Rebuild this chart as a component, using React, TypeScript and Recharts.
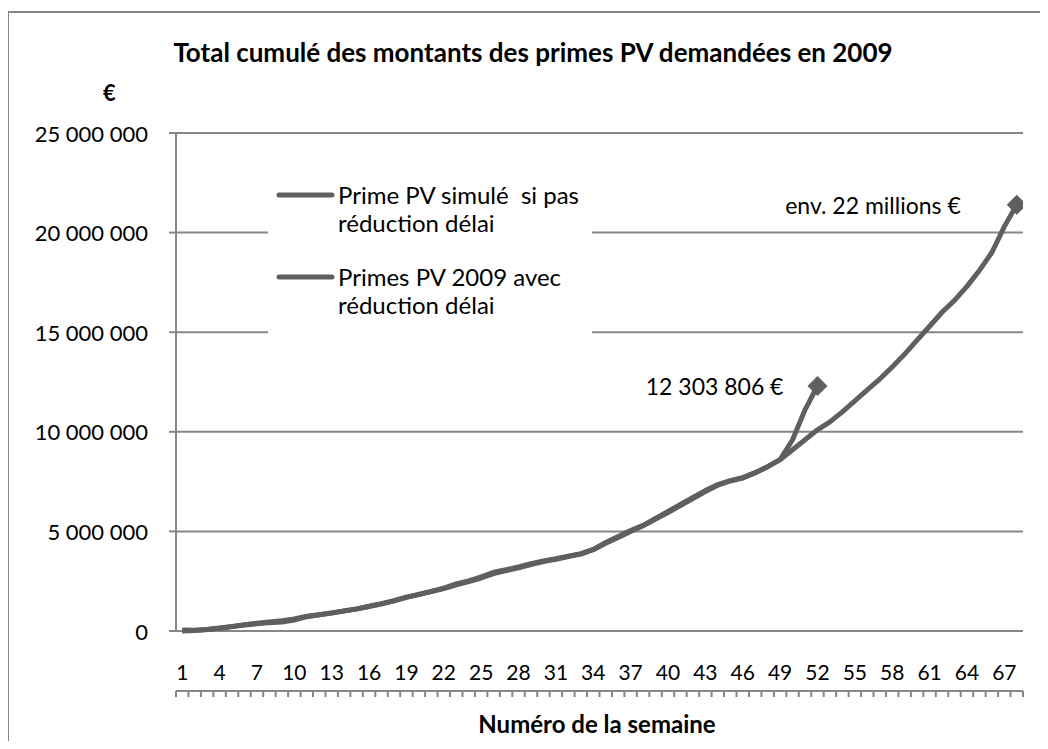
import React from 'react';
import { LineChart, Line, XAxis, YAxis, CartesianGrid, Legend, LabelList } from 'recharts';

// cumulative amounts in euros, one value per week
const simuleValues = [
  0, 20000, 70000, 140000, 220000, 310000, 390000, 450000, 510000, 610000,
  740000, 820000, 900000, 1000000, 1110000, 1240000, 1370000, 1520000, 1700000, 1840000,
  1980000, 2130000, 2320000, 2480000, 2660000, 2880000, 3030000, 3170000, 3340000, 3490000,
  3600000, 3740000, 3860000, 4100000, 4440000, 4740000, 5040000, 5300000, 5650000, 6000000,
  6350000, 6700000, 7050000, 7350000, 7550000, 7700000, 7950000, 8250000, 8600000, 9100000,
  9600000, 10100000, 10500000, 11000000, 11550000, 12100000, 12650000, 13250000, 13900000, 14600000,
  15300000, 16000000, 16600000, 17300000, 18100000, 19000000, 20300000, 21400000,
];

const primes2009Values = [
  50000, 40000, 80000, 150000, 230000, 300000, 360000, 420000, 450000, 550000,
  720000, 820000, 910000, 1010000, 1100000, 1230000, 1360000, 1510000, 1690000, 1830000,
  1990000, 2150000, 2360000, 2520000, 2720000, 2950000, 3080000, 3220000, 3380000, 3520000,
  3630000, 3760000, 3880000, 4080000, 4400000, 4700000, 5000000, 5280000, 5620000, 5950000,
  6300000, 6650000, 7000000, 7320000, 7530000, 7680000, 7940000, 8250000, 8600000, 9600000,
  11100000, 12303806,
];

const weekTicks = [1, 4, 7, 10, 13, 16, 19, 22, 25, 28, 31, 34, 37, 40, 43, 46, 49, 52, 55, 58, 61, 64, 67];
const yTicks = [0, 5000000, 10000000, 15000000, 20000000, 25000000];

const simuleName = 'Prime PV simulé  si pas réduction délai';
const primesName = 'Primes PV 2009 avec réduction délai';
const simuleNote = 'env. 22 millions €';

const data = simuleValues.map((v, i) => ({
  week: i + 1,
  simule: v,
  primes2009: i < primes2009Values.length ? primes2009Values[i] : null,
}));

// category boundaries for the small tick marks under the axis
const boundaryTicks = [0, ...simuleValues.map((_, i) => i + 1)].map((w) => w + 0.5);

const FONT = 'Lato, "Open Sans", sans-serif';
const LINE = '#5f5f5f';
const GRID = '#868686';

const fmt = (v: number) => String(Math.round(v)).replace(/\B(?=(\d{3})+(?!\d))/g, ' ');

const diamond = (last: number) => (props: any) => {
  const { cx, cy, index } = props;
  if (index !== last || cx == null || cy == null) return <g key={`d-${index}`} />;
  const r = 10;
  return (
    <path
      key={`d-${index}`}
      d={`M${cx},${cy - r} L${cx + r},${cy} L${cx},${cy + r} L${cx - r},${cy} Z`}
      fill={LINE}
    />
  );
};

const endLabel = (last: number, text: (v: number) => string, gap: number) => (props: any) => {
  const { x, y, value, index } = props;
  if (index !== last) return null;
  return (
    <text x={x - gap} y={y} textAnchor="end" dominantBaseline="central" fontFamily={FONT} fontSize={23} fill="#000">
      {text(value)}
    </text>
  );
};

const YTick = (props: any) => (
  <text x={props.x} y={props.y} textAnchor="end" dominantBaseline="central" fontFamily={FONT} fontSize={22} fill="#000">
    {fmt(props.payload.value)}
  </text>
);

const NoTick = () => <g />;

const LegendBox = (props: any) => {
  const { payload } = props;
  return (
    <div style={{ background: '#fff', width: 324, height: 170, paddingTop: 9, paddingLeft: 8, boxSizing: 'border-box', fontFamily: FONT }}>
      {(payload || []).map((entry: any, i: number) => (
        <div key={i} style={{ display: 'flex', alignItems: 'flex-start', marginBottom: 26 }}>
          <svg width={60} height={28} style={{ flex: 'none' }}>
            <line x1={3} x2={56} y1={14} y2={14} stroke={entry.color} strokeWidth={5} strokeLinecap="round" />
          </svg>
          <span style={{ width: 252, marginLeft: 2, fontSize: 24, lineHeight: '28px', color: '#000', whiteSpace: 'pre-wrap' }}>
            {entry.value}
          </span>
        </div>
      ))}
    </div>
  );
};

export default function App() {
  return (
    <div style={{ position: 'relative', width: 1048, height: 749, margin: -8, overflow: 'hidden', background: '#fff', fontFamily: FONT }}>
      <div style={{ position: 'absolute', left: 7, top: 11, width: 1100, height: 800, border: `2px solid ${GRID}` }} />
      <div style={{ position: 'absolute', left: 0, width: 1066, top: 36, textAlign: 'center', fontWeight: 700, fontSize: 26, color: '#000' }}>
        Total cumulé des montants des primes PV demandées en 2009
      </div>
      <div style={{ position: 'absolute', left: 103, top: 79, fontWeight: 700, fontSize: 22, color: '#000' }}>€</div>
      <div style={{ position: 'absolute', left: 0, width: 1194, top: 709, textAlign: 'center', fontWeight: 700, fontSize: 24, color: '#000' }}>
        Numéro de la semaine
      </div>
      <div style={{ position: 'absolute', left: 0, top: 0 }}>
        <LineChart width={1048} height={749} data={data} margin={{ top: 133, right: 25, bottom: 52, left: 116 }}>
          <CartesianGrid horizontal vertical={false} stroke={GRID} strokeWidth={2} />
          <XAxis
            xAxisId="marks"
            type="number"
            dataKey="week"
            domain={[0.5, 68.5]}
            allowDataOverflow
            ticks={boundaryTicks}
            interval={0}
            tick={NoTick}
            tickSize={6}
            height={6}
            axisLine={{ stroke: GRID, strokeWidth: 2 }}
            tickLine={{ stroke: GRID, strokeWidth: 2 }}
          />
          <XAxis
            type="number"
            dataKey="week"
            domain={[0.5, 68.5]}
            allowDataOverflow
            ticks={weekTicks}
            interval={0}
            height={60}
            axisLine={false}
            tickLine={false}
            tickSize={0}
            tickMargin={34}
            tick={{ fill: '#000', fontSize: 21, fontFamily: FONT }}
          />
          <YAxis
            domain={[0, 25000000]}
            ticks={yTicks}
            interval={0}
            width={60}
            tickSize={7}
            tickMargin={21}
            axisLine={{ stroke: GRID, strokeWidth: 2 }}
            tickLine={{ stroke: GRID, strokeWidth: 2 }}
            tick={YTick}
          />
          <Legend
            layout="horizontal"
            verticalAlign="middle"
            content={<LegendBox />}
            wrapperStyle={{ position: 'absolute', left: 268, top: 172, width: 324, height: 170 }}
          />
          <Line
            type="linear"
            dataKey="simule"
            name={simuleName}
            stroke={LINE}
            strokeWidth={5}
            strokeLinejoin="round"
            dot={diamond(simuleValues.length - 1)}
            activeDot={false}
            isAnimationActive={false}
          >
            <LabelList dataKey="simule" content={endLabel(simuleValues.length - 1, () => simuleNote, 56)} />
          </Line>
          <Line
            type="linear"
            dataKey="primes2009"
            name={primesName}
            stroke={LINE}
            strokeWidth={5}
            strokeLinejoin="round"
            dot={diamond(primes2009Values.length - 1)}
            activeDot={false}
            isAnimationActive={false}
          >
            <LabelList dataKey="primes2009" content={endLabel(primes2009Values.length - 1, (v) => `${fmt(v)} €`, 34)} />
          </Line>
        </LineChart>
      </div>
    </div>
  );
}
